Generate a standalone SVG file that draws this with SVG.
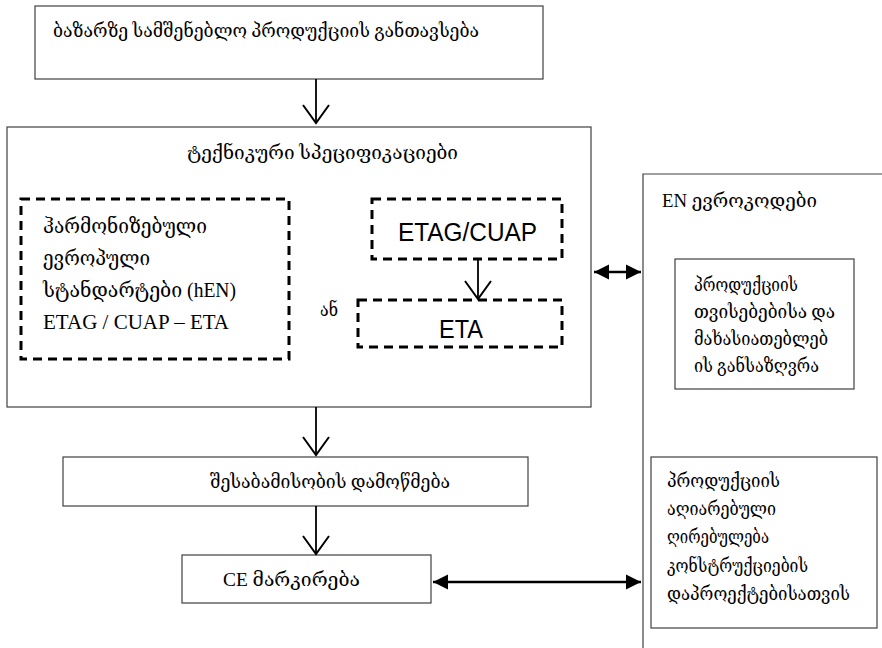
<svg xmlns="http://www.w3.org/2000/svg" width="882" height="648" viewBox="0 0 882 648">
<style>
  .box { fill: #ffffff; stroke: #404040; stroke-width: 1.2; }
  .dash { fill: none; stroke: #000000; stroke-width: 3; stroke-dasharray: 9 6; }
  .t { font-family: "Liberation Serif", "DejaVu Serif", "DejaVu Sans", serif; font-size: 19px; fill: #000000; }
  .tl { font-family: "Liberation Serif", "DejaVu Serif", "DejaVu Sans", serif; font-size: 21px; fill: #000000; }
  .ts { font-family: "Liberation Sans", Arial, sans-serif; font-size: 26px; fill: #000000; }
  .arr { fill: none; stroke: #000000; stroke-width: 1.8; marker-end: url(#open); }
  .dbl { fill: none; stroke: #000000; stroke-width: 2.5; marker-start: url(#solid); marker-end: url(#solid); }
</style>
<defs>
  <marker id="open" markerUnits="userSpaceOnUse" markerWidth="40" markerHeight="40" viewBox="-20 -20 40 40" refX="0" refY="0" orient="auto" overflow="visible">
    <path d="M-18,-13 L0,0 L-18,13" fill="none" stroke="#000000" stroke-width="2"/>
  </marker>
  <marker id="solid" markerUnits="userSpaceOnUse" markerWidth="30" markerHeight="30" viewBox="-20 -15 30 30" refX="0" refY="0" orient="auto-start-reverse" overflow="visible">
    <path d="M-15,-7.5 L0,0 L-15,7.5 Z" fill="#000000"/>
  </marker>
</defs>
<rect width="882" height="648" fill="#ffffff"/>

<g id="node-market">
  <rect class="box" x="35" y="6" width="508" height="73"/>
  <text class="t" x="53" y="37" textLength="426" lengthAdjust="spacingAndGlyphs">ბაზარზე სამშენებლო პროდუქციის განთავსება</text>
</g>

<g id="node-techspec">
  <rect class="box" x="7" y="127" width="584" height="280"/>
  <text class="t" x="187" y="159" font-size="20" textLength="271" lengthAdjust="spacingAndGlyphs">ტექნიკური სპეციფიკაციები</text>
</g>

<g id="node-hen">
  <rect class="dash" x="21" y="199" width="268" height="160"/>
  <text class="tl" x="43" y="233" textLength="164" lengthAdjust="spacingAndGlyphs">ჰარმონიზებული</text>
  <text class="tl" x="43" y="265" textLength="107" lengthAdjust="spacingAndGlyphs">ევროპული</text>
  <text class="tl" x="43" y="297" textLength="193" lengthAdjust="spacingAndGlyphs">სტანდარტები (hEN)</text>
  <text class="tl" x="43" y="329">ETAG / CUAP – ETA</text>
</g>

<g id="node-or">
  <text class="t" x="320" y="316" font-size="20" textLength="18" lengthAdjust="spacingAndGlyphs">ან</text>
</g>

<g id="node-etag">
  <rect class="dash" x="372" y="199" width="190" height="60"/>
  <text class="ts" x="398" y="241" textLength="139" lengthAdjust="spacingAndGlyphs">ETAG/CUAP</text>
</g>

<g id="node-eta">
  <rect class="dash" x="358" y="300" width="204" height="47"/>
  <text class="ts" x="439" y="338" textLength="44" lengthAdjust="spacingAndGlyphs">ETA</text>
</g>

<g id="node-conformity">
  <rect class="box" x="63" y="457" width="465" height="49"/>
  <text class="t" x="210" y="488" textLength="240" lengthAdjust="spacingAndGlyphs">შესაბამისობის დამოწმება</text>
</g>

<g id="node-ce">
  <rect class="box" x="182" y="555" width="249" height="48"/>
  <text class="t" x="223" y="586" textLength="137" lengthAdjust="spacingAndGlyphs">CE მარკირება</text>
</g>

<g id="node-eurocodes">
  <path class="box" d="M643,648 V174 H882" fill="none"/>
  <text class="t" x="662" y="207" textLength="155" lengthAdjust="spacingAndGlyphs">EN ევროკოდები</text>
</g>

<g id="node-properties">
  <rect class="box" x="675" y="259" width="179" height="130"/>
  <text class="t" x="694" y="291" textLength="104" lengthAdjust="spacingAndGlyphs">პროდუქციის</text>
  <text class="t" x="694" y="318" textLength="141" lengthAdjust="spacingAndGlyphs">თვისებებისა და</text>
  <text class="t" x="694" y="345" textLength="134" lengthAdjust="spacingAndGlyphs">მახასიათებლებ</text>
  <text class="t" x="694" y="372" textLength="125" lengthAdjust="spacingAndGlyphs">ის განსაზღვრა</text>
</g>

<g id="node-design">
  <rect class="box" x="651" y="457" width="226" height="171"/>
  <text class="t" x="667" y="487" textLength="113" lengthAdjust="spacingAndGlyphs">პროდუქციის</text>
  <text class="t" x="667" y="515" textLength="109" lengthAdjust="spacingAndGlyphs">აღიარებული</text>
  <text class="t" x="667" y="543" textLength="102" lengthAdjust="spacingAndGlyphs">ღირებულება</text>
  <text class="t" x="667" y="572" textLength="141" lengthAdjust="spacingAndGlyphs">კონსტრუქციების</text>
  <text class="t" x="667" y="600" textLength="183" lengthAdjust="spacingAndGlyphs">დაპროექტებისათვის</text>
</g>

<g id="connectors">
  <line class="arr" x1="316" y1="79" x2="316" y2="123"/>
  <line class="arr" x1="478" y1="259" x2="478" y2="299"/>
  <line class="arr" x1="316" y1="407" x2="316" y2="455"/>
  <line class="arr" x1="316" y1="506" x2="316" y2="554"/>
  <line class="dbl" x1="594" y1="272" x2="641" y2="272"/>
  <line class="dbl" x1="433" y1="582" x2="641" y2="582"/>
</g>
</svg>
